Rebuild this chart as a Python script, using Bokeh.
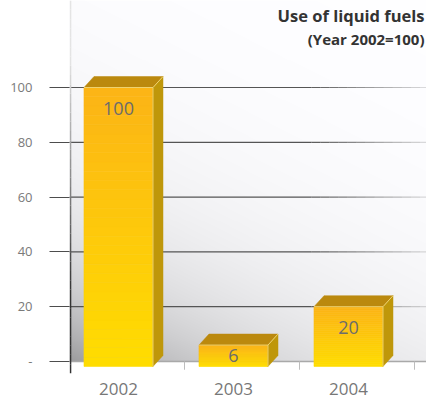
import numpy as np
from bokeh.plotting import figure
from bokeh.models import Range1d, FixedTicker, Label
from bokeh.core.properties import value
from bokeh.embed import file_html
from bokeh.resources import INLINE

# ---- data ----
years = ["2002", "2003", "2004"]
values = [100, 6, 20]
y_ticks = [0, 20, 40, 60, 80, 100]
y_tick_labels = ["-", "20", "40", "60", "80", "100"]
title_line1 = "Use of liquid fuels"
title_line2 = "(Year 2002=100)"

# ---- layout constants ----
W, H = 426, 399
LEFT = 69
BOTTOM = 26
PX_X = 115.0   # px per x unit
PX_Y = 2.74    # px per y unit
X0 = -0.426
X1 = X0 + (W - LEFT) / PX_X
Y0 = -12 / PX_Y
Y1 = 100 + 87 / PX_Y

p = figure(width=W, height=H, output_backend="svg", toolbar_location=None,
           x_range=Range1d(X0, X1), y_range=Range1d(Y0, Y1),
           min_border_left=LEFT, min_border_right=0, min_border_top=0,
           min_border_bottom=BOTTOM)
p.outline_line_color = None
p.grid.visible = False
p.background_fill_color = "white"
p.border_fill_color = "white"

# ---- background wall gradient ----
nx, ny = 360, 370
fw = (X1 - X0) * PX_X
fh = Y1 * PX_Y
jx = (np.arange(nx) + 0.5) * fw / nx
iy = (np.arange(ny) + 0.5) * fh / ny
XX, YY = np.meshgrid(jx, iy)
s = 0.5 * XX + YY
b = 255 - 100 * np.exp(-s / 105.0)
img = np.empty((ny, nx), dtype=np.uint32)
view = img.view(dtype=np.uint8).reshape((ny, nx, 4))
view[..., 0] = np.clip(b, 0, 255).astype(np.uint8)
view[..., 1] = np.clip(b, 0, 255).astype(np.uint8)
view[..., 2] = np.clip(b + 2, 0, 255).astype(np.uint8)
view[..., 3] = 255
p.image_rgba(image=[img], x=X0, y=0, dw=X1 - X0, dh=Y1)

# ---- fading grid lines ----
fade_start = 1.68
n_fade = 14
gx0, gx1, gy, ga = [], [], [], []
for t in y_ticks[1:]:
    gx0.append(X0); gx1.append(fade_start); gy.append(t); ga.append(1.0)
    edges = np.linspace(fade_start, X1 + 0.1, n_fade + 1)
    for k in range(n_fade):
        gx0.append(edges[k]); gx1.append(edges[k + 1]); gy.append(t)
        ga.append(1.0 - 0.85 * (k + 1) / n_fade)
p.segment(x0=gx0, y0=gy, x1=gx1, y1=gy, line_color="#555555", line_alpha=ga, line_width=1.2)

# floor line
p.segment(x0=[X0], y0=[0], x1=[X1], y1=[0], line_color="#a9a9a9", line_width=1.5)

# category separator ticks
sep = [i + 0.574 for i in range(len(years))]
p.segment(x0=sep, y0=[0] * len(sep), x1=sep, y1=[-3.0] * len(sep), line_color="#bdbdbd", line_width=1)

# vertical axis line with fade
vy = np.linspace(Y0, Y1, 41)
vcol = []
for k in range(40):
    ym = 0.5 * (vy[k] + vy[k + 1])
    t = np.clip((ym - 25) / 85.0, 0, 1)
    c = int(51 + (228 - 51) * t)
    vcol.append("#%02x%02x%02x" % (c, c, c))
vx = X0 + 1.0 / PX_X
p.segment(x0=[vx] * 40, y0=vy[:-1], x1=[vx] * 40, y1=vy[1:], line_color=vcol, line_width=1.6)

# ---- 3D bars ----
hw = 0.30
dx = 10.0 / PX_X
dy = 11.0 / PX_Y
base = -1.8
N = 30
bot_rgb = np.array([255, 221, 0])
top_rgb = np.array([252, 180, 22])
for i, v in enumerate(values):
    ys = np.linspace(base, v, N + 1)
    cols = []
    for k in range(N):
        f = (k + 0.5) / N
        c = bot_rgb + (top_rgb - bot_rgb) * f
        cols.append("#%02x%02x%02x" % tuple(int(round(q)) for q in c))
    p.quad(left=[i - hw] * N, right=[i + hw] * N, bottom=ys[:-1], top=ys[1:],
           fill_color=cols, line_color=cols, line_width=0.6)
    # top face
    p.patch(x=[i - hw, i + hw, i + hw + dx, i - hw + dx],
            y=[v, v, v + dy, v + dy], fill_color="#bb890e", line_color="#bb890e", line_width=0.5)
    # side face
    p.patch(x=[i + hw, i + hw, i + hw + dx, i + hw + dx],
            y=[base, v, v + dy, base + dy], fill_color="#bf970a", line_color="#bf970a", line_width=0.5)
    # highlight edges
    p.segment(x0=[i + hw, i - hw, i + hw], y0=[v, v, base],
              x1=[i + hw + dx, i + hw, i + hw], y1=[v + dy, v, v],
              line_color="#f3d97a", line_width=0.9)

# value labels
idx = list(range(len(values)))
label_y = [max(v - 7.5, (v + base) / 2) for v in values]
p.text(x=idx, y=label_y, text=[str(v) for v in values],
       text_font=value("Open Sans"), text_font_size="18px", text_color="#6c6c6c",
       text_align="center", text_baseline="middle")

# ---- axes ----
p.yaxis.ticker = FixedTicker(ticks=y_ticks)
p.yaxis.major_label_overrides = dict(zip(y_ticks, y_tick_labels))
p.yaxis.axis_line_color = None
p.yaxis.major_tick_out = 20
p.yaxis.major_tick_in = 0
p.yaxis.major_tick_line_color = "#4d4d4d"
p.yaxis.major_tick_line_width = 1.2
p.yaxis.minor_tick_line_color = None
p.yaxis.major_label_standoff = 17
p.yaxis.major_label_text_font = "Open Sans"
p.yaxis.major_label_text_font_size = "13px"
p.yaxis.major_label_text_color = "#7a7a7a"

p.xaxis.ticker = FixedTicker(ticks=idx)
p.xaxis.major_label_overrides = dict(zip(idx, years))
p.xaxis.axis_line_color = None
p.xaxis.major_tick_line_color = None
p.xaxis.minor_tick_line_color = None
p.xaxis.major_label_standoff = 3
p.xaxis.major_label_text_font = "Open Sans"
p.xaxis.major_label_text_font_size = "17px"
p.xaxis.major_label_text_color = "#777777"

# ---- title ----
tx = X0 + (424 - LEFT) / PX_X
p.add_layout(Label(x=tx, y=Y1 - 15 / PX_Y, text=title_line1, text_align="right",
                   text_baseline="middle", text_font="Open Sans", text_font_style="bold",
                   text_font_size="16.5px", text_color="#333333"))
p.add_layout(Label(x=tx, y=Y1 - 38 / PX_Y, text=title_line2, text_align="right",
                   text_baseline="middle", text_font="Open Sans", text_font_style="bold",
                   text_font_size="15px", text_color="#333333"))

open("out.html", "w").write(file_html(p, INLINE))
